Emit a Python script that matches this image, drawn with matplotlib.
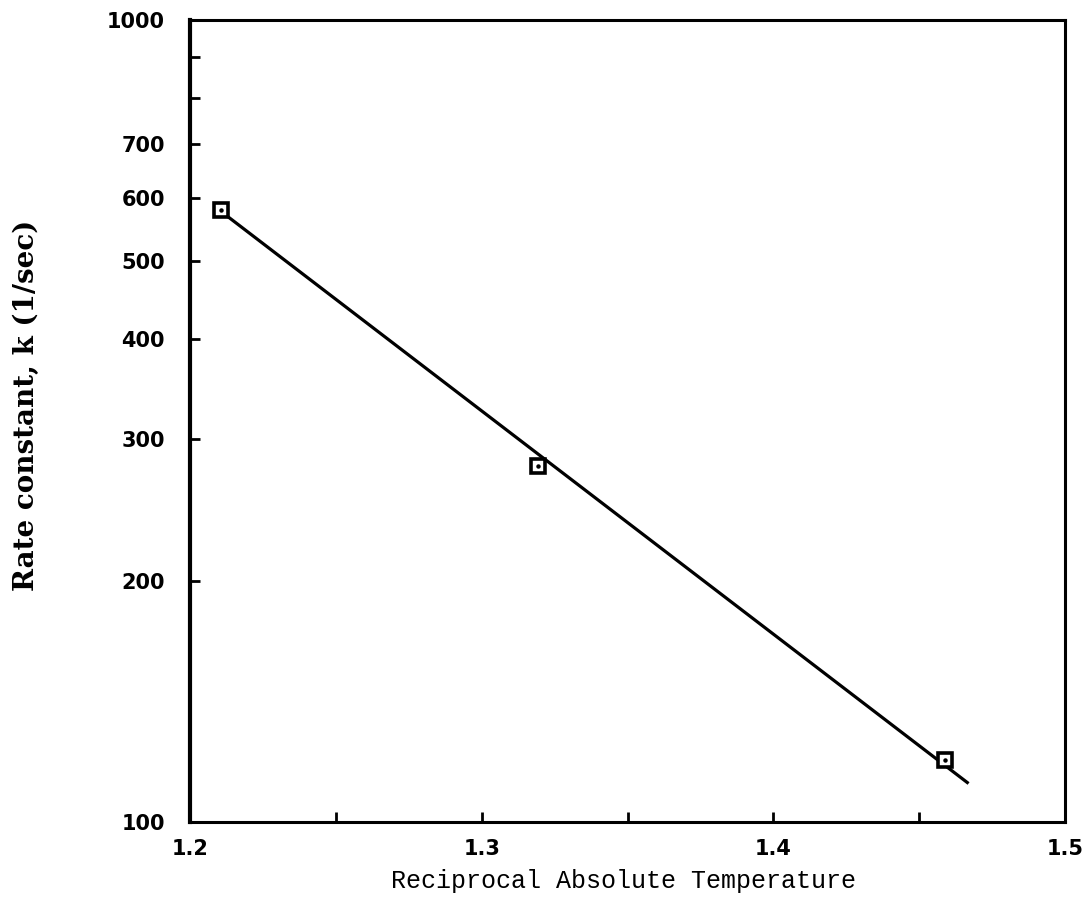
import matplotlib
matplotlib.use("Agg")
import matplotlib.pyplot as plt
from matplotlib.ticker import FixedLocator, NullLocator, FixedFormatter

# measured points (reciprocal temperature vs rate constant)
inv_temp = [1.2106, 1.3193, 1.4588]
rate_k = [580, 278, 119.5]

# fitted line as drawn on the chart (end points)
line_x = [1.2115, 1.4665]
line_y = [574, 112]

y_ticks = [100, 200, 300, 400, 500, 600, 700, 800, 900, 1000]
y_labels = ["100", "200", "300", "400", "500", "600", "700", "", "", "1000"]
x_ticks = [1.2, 1.25, 1.3, 1.35, 1.4, 1.45, 1.5]
x_labels = ["1.2", "", "1.3", "", "1.4", "", "1.5"]

fig = plt.figure(figsize=(10.88, 9.05), dpi=100)
ax = fig.add_axes([190 / 1088, 1 - 822 / 905, 875 / 1088, 802 / 905])

ax.plot(line_x, line_y, color="black", lw=2.3)
ax.plot(inv_temp, rate_k, linestyle="none", marker="s", markersize=10,
        markerfacecolor="white", markeredgecolor="black", markeredgewidth=2.6)
# little dot inside each square, as on the original
ax.plot(inv_temp, rate_k, linestyle="none", marker="o", markersize=2.2,
        color="black")

ax.set_yscale("log")
ax.set_xlim(1.2, 1.5)
ax.set_ylim(100, 1000)

ax.yaxis.set_major_locator(FixedLocator(y_ticks))
ax.yaxis.set_major_formatter(FixedFormatter(y_labels))
ax.yaxis.set_minor_locator(NullLocator())
ax.xaxis.set_major_locator(FixedLocator(x_ticks))
ax.xaxis.set_major_formatter(FixedFormatter(x_labels))

for side in ["left", "right", "top", "bottom"]:
    ax.spines[side].set_linewidth(2.2)
ax.spines["left"].set_linewidth(3)

ax.tick_params(axis="y", direction="in", length=7, width=2, pad=18)
ax.tick_params(axis="x", direction="in", length=7, width=2, pad=12)
for lab in ax.get_xticklabels() + ax.get_yticklabels():
    lab.set_fontfamily("DejaVu Sans")
    lab.set_fontweight("bold")
    lab.set_fontsize(15)

ax.set_xlabel("Reciprocal Absolute Temperature", family="Liberation Mono",
              fontsize=18)
ax.xaxis.set_label_coords(0.495, -0.058)
ax.set_ylabel("Rate constant, k (1/sec)", family="DejaVu Serif",
              fontweight="bold", fontsize=20)
ax.yaxis.set_label_coords(-0.171, 0.519)

fig.savefig("out.png", dpi=100)
